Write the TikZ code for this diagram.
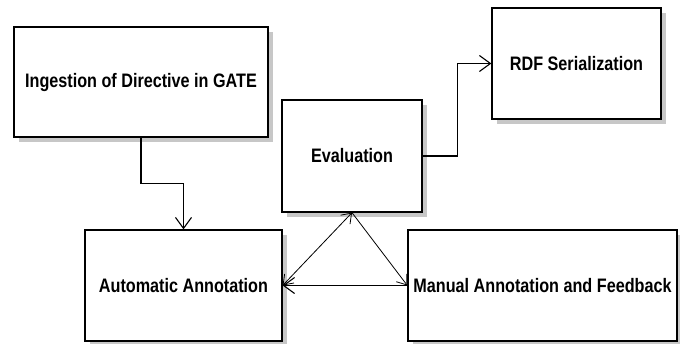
\documentclass[tikz,border=0pt]{standalone}
\usepackage{fontspec}
\setmainfont{Liberation Sans}[FakeStretch=0.83]
\usetikzlibrary{arrows.meta,shadows}

\begin{document}
\begin{tikzpicture}[x=1pt, y=-1pt,
    stage/.style={draw=black, line width=1.3pt, fill=white, inner sep=0pt,
        font=\fontsize{19.5}{21}\selectfont\bfseries,
        drop shadow={shadow xshift=5pt, shadow yshift=-5pt, fill=black!22, opacity=1}},
    flow/.style={line width=1.1pt, -{Straight Barb[length=11pt, width=16pt]}},
    link/.style={line width=0.8pt, -{Straight Barb[length=9pt, width=13pt]}}]
    \useasboundingbox (0,0) rectangle (680,343);

    \node[stage, minimum width=254pt, minimum height=110pt] (ingest) at (141, 82) {Ingestion of Directive in GATE};
    \node[stage, minimum width=140pt, minimum height=112pt] (eval) at (352, 156) {Evaluation};
    \node[stage, minimum width=169pt, minimum height=111pt] (rdf) at (576.5, 63.5) {RDF Serialization};
    \node[stage, minimum width=197pt, minimum height=111pt] (auto) at (183.5, 285.5) {Automatic Annotation};
    \node[stage, minimum width=269pt, minimum height=111pt] (manual) at (542.5, 285.5) {Manual Annotation and Feedback};

    \draw[flow] (ingest.south) -- ++(0, 46) -| (auto.north);
    \draw[flow] (eval.east) -- ++(35, 0) |- (rdf.west);

    \draw[link, {Straight Barb[length=9pt, width=13pt]}-{Straight Barb[length=9pt, width=13pt]}] (eval.south) -- (auto.east);
    \draw[link] (eval.south) -- (manual.west);
    \draw[flow] (manual.west) -- (auto.east);
\end{tikzpicture}
\end{document}
